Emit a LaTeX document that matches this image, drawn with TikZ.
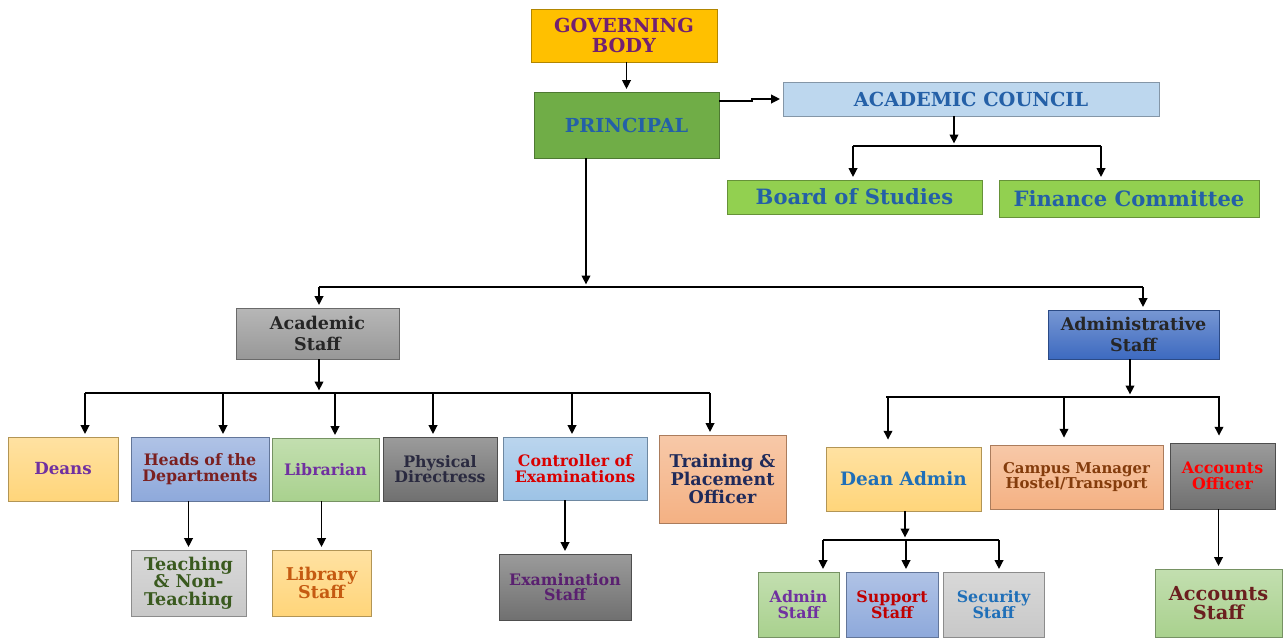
\documentclass[tikz,border=0pt]{standalone}
\usepackage{fontspec}
\setmainfont{DejaVu Serif}
\usetikzlibrary{arrows.meta,positioning}

\definecolor{gold}{HTML}{FFC000}
\definecolor{leaf}{HTML}{70AD47}
\definecolor{sky}{HTML}{BDD7EE}
\definecolor{lime}{HTML}{92D050}
\definecolor{silver}{HTML}{989898}
\definecolor{royal}{HTML}{3D6AC0}
\definecolor{peach}{HTML}{FFD57A}
\definecolor{lav}{HTML}{8EA9DB}
\definecolor{sage}{HTML}{A9D18E}
\definecolor{slate}{HTML}{707070}
\definecolor{ice}{HTML}{9DC3E6}
\definecolor{salmon}{HTML}{F4B183}
\definecolor{pale}{HTML}{C8C8C8}

\definecolor{plum}{HTML}{722070}
\definecolor{steel}{HTML}{2460A7}
\definecolor{violet}{HTML}{7030A0}
\definecolor{maroon}{HTML}{7B2020}
\definecolor{ink}{HTML}{2A2A40}
\definecolor{navy}{HTML}{1F2A5A}
\definecolor{moss}{HTML}{3A5A1F}
\definecolor{rust}{HTML}{C55A11}
\definecolor{grape}{HTML}{5A2070}
\definecolor{azure}{HTML}{1F6FB8}
\definecolor{brown}{HTML}{843C0C}
\definecolor{crimson}{HTML}{C00000}
\definecolor{wine}{HTML}{6B1F1F}

\newcommand\orgfont[1]{\fontsize{#1}{#1}\selectfont\bfseries}

\begin{document}
\begin{tikzpicture}[x=0.02cm, y=-0.02cm,
    unit/.style = {draw=#1!70!black, top color=#1!70!white, bottom color=#1, line width=0.5pt, inner sep=1pt, align=center},
    sz/.style 2 args = {minimum width=#1*0.02cm, minimum height=#2*0.02cm},
    arr/.style = {-{Triangle[length=5pt,width=5pt]}, line width=0.7pt, shorten >=1.5pt},
    bus/.style = {line width=0.7pt}]
    \useasboundingbox (0,0) rectangle (1284,637);

    % top of the chart
    \node[unit=gold, sz={186}{53}, top color=gold, text=plum, font=\orgfont{11}] (gb) at (624,35.5) {GOVERNING\\BODY};
    \node[unit=leaf, sz={185}{66}, top color=leaf, text=steel, font=\orgfont{11}] (prin) at (626.5,125) {PRINCIPAL};
    \node[unit=sky, sz={376}{34}, top color=sky, text=steel, font=\orgfont{11}] (council) at (971,99) {ACADEMIC COUNCIL};
    \node[unit=lime, sz={255}{34}, top color=lime, text=steel, font=\orgfont{12}] (bos) at (854.5,197) {Board of Studies};
    \node[unit=lime, sz={260}{37}, top color=lime, text=steel, font=\orgfont{12}] (fin) at (1129,198.5) {Finance Committee};

    % staff
    \node[unit=silver, sz={163}{51}, text=black!85, font=\orgfont{10}] (acad) at (317.5,333.5) {Academic\\[2pt]Staff};
    \node[unit=royal, sz={171}{49}, text=black!85, font=\orgfont{10}] (admin) at (1133.5,334.5) {Administrative\\[2pt]Staff};

    % academic side
    \node[unit=peach, sz={110}{64}, text=violet, font=\orgfont{9.5}] (deans) at (63,469) {Deans};
    \node[unit=lav, sz={138}{64}, text=maroon, font=\orgfont{9}] (hod) at (200,469) {Heads of the\\Departments};
    \node[unit=sage, sz={107}{63}, text=violet, font=\orgfont{9}] (lib) at (325.5,469.5) {Librarian};
    \node[unit=slate, sz={114}{64}, text=ink, font=\orgfont{9}] (phys) at (440,469) {Physical\\Directress};
    \node[unit=ice, sz={144}{63}, text=red!85!black, font=\orgfont{9}] (coe) at (575,468.5) {Controller of\\Examinations};
    \node[unit=salmon, sz={127}{88}, text=navy, font=\orgfont{10}] (tpo) at (722.5,479) {Training \&\\Placement\\Officer};
    \node[unit=pale, sz={115}{66}, text=moss, font=\orgfont{10}] (teach) at (188.5,583) {Teaching\\\& Non-\\Teaching};
    \node[unit=peach, sz={99}{66}, text=rust, font=\orgfont{10}] (libstaff) at (321.5,583) {Library\\Staff};
    \node[unit=slate, sz={132}{66}, text=grape, font=\orgfont{9}] (exam) at (565,587) {Examination\\Staff};

    % administrative side
    \node[unit=peach, sz={155}{64}, text=azure, font=\orgfont{10.5}] (deanadm) at (903.5,479) {Dean Admin};
    \node[unit=salmon, sz={173}{64}, text=brown, font=\orgfont{8.5}] (campus) at (1076.5,477) {Campus Manager\\Hostel/Transport};
    \node[unit=slate, sz={105}{66}, text=red, font=\orgfont{9}] (accoff) at (1222.5,476) {Accounts\\Officer};
    \node[unit=sage, sz={81}{65}, text=violet, font=\orgfont{9}] (admstaff) at (798.5,604.5) {Admin\\Staff};
    \node[unit=lav, sz={92}{65}, text=crimson, font=\orgfont{9}] (support) at (892,604.5) {Support\\Staff};
    \node[unit=pale, sz={101}{65}, text=azure, font=\orgfont{9}] (security) at (993.5,604.5) {Security\\Staff};
    \node[unit=sage, sz={127}{68}, text=wine, font=\orgfont{11}] (accstaff) at (1218.5,603) {Accounts\\Staff};

    % bus points
    \coordinate (kink) at (752,101);
    \coordinate (cmid) at (954,146);
    \coordinate (c1) at (853,146);
    \coordinate (c2) at (1101,146);
    \coordinate (pmid) at (586,287);
    \coordinate (p1) at (319,287);
    \coordinate (p2) at (1143,287);
    \coordinate (amid) at (319,393);
    \coordinate (a1) at (85,393);
    \coordinate (a2) at (710,393);
    \coordinate (dmid) at (1130,397);
    \coordinate (d1) at (886,397);
    \coordinate (d2) at (1220,397);
    \coordinate (emid) at (905,540);
    \coordinate (e1) at (823,540);
    \coordinate (e2) at (999,540);

    \draw[arr] (gb.south -| prin.north) -- (prin.north);
    \draw[arr] (prin.east |- kink) -- (kink) |- (council.west);

    \draw[arr] (council.south -| cmid) -- (cmid);
    \draw[bus] (c1) -- (c2);
    \draw[arr] (c1) -- (bos.north -| c1);
    \draw[arr] (c2) -- (fin.north -| c2);

    \draw[arr] (prin.south -| pmid) -- (pmid);
    \draw[bus] (p1) -- (p2);
    \draw[arr] (p1) -- (acad.north -| p1);
    \draw[arr] (p2) -- (admin.north -| p2);

    \draw[arr] (acad.south -| amid) -- (amid);
    \draw[bus] (a1) -- (a2);
    \foreach \n/\x in {deans/85, hod/223, lib/335, phys/433, coe/572, tpo/710} {
        \coordinate (drop) at (\x,393);
        \draw[arr] (drop) -- (\n.north -| drop);
    }
    \draw[arr] (hod.south -| teach.north) -- (teach.north);
    \draw[arr] (lib.south -| libstaff.north) -- (libstaff.north);
    \draw[arr] (coe.south -| exam.north) -- (exam.north);

    \draw[arr] (admin.south -| dmid) -- (dmid);
    \draw[bus] (d1) -- (d2);
    \foreach \n/\x in {deanadm/888, campus/1064, accoff/1219} {
        \coordinate (drop) at (\x,397);
        \draw[arr, shorten >=4pt] (drop) -- (\n.north -| drop);
    }
    \draw[arr] (deanadm.south -| emid) -- (emid);
    \draw[bus] (e1) -- (e2);
    \foreach \n/\x in {admstaff/823, support/906, security/999} {
        \coordinate (drop) at (\x,540);
        \draw[arr] (drop) -- (\n.north -| drop);
    }
    \draw[arr] (accoff.south -| accstaff.north) -- (accstaff.north);
\end{tikzpicture}
\end{document}
